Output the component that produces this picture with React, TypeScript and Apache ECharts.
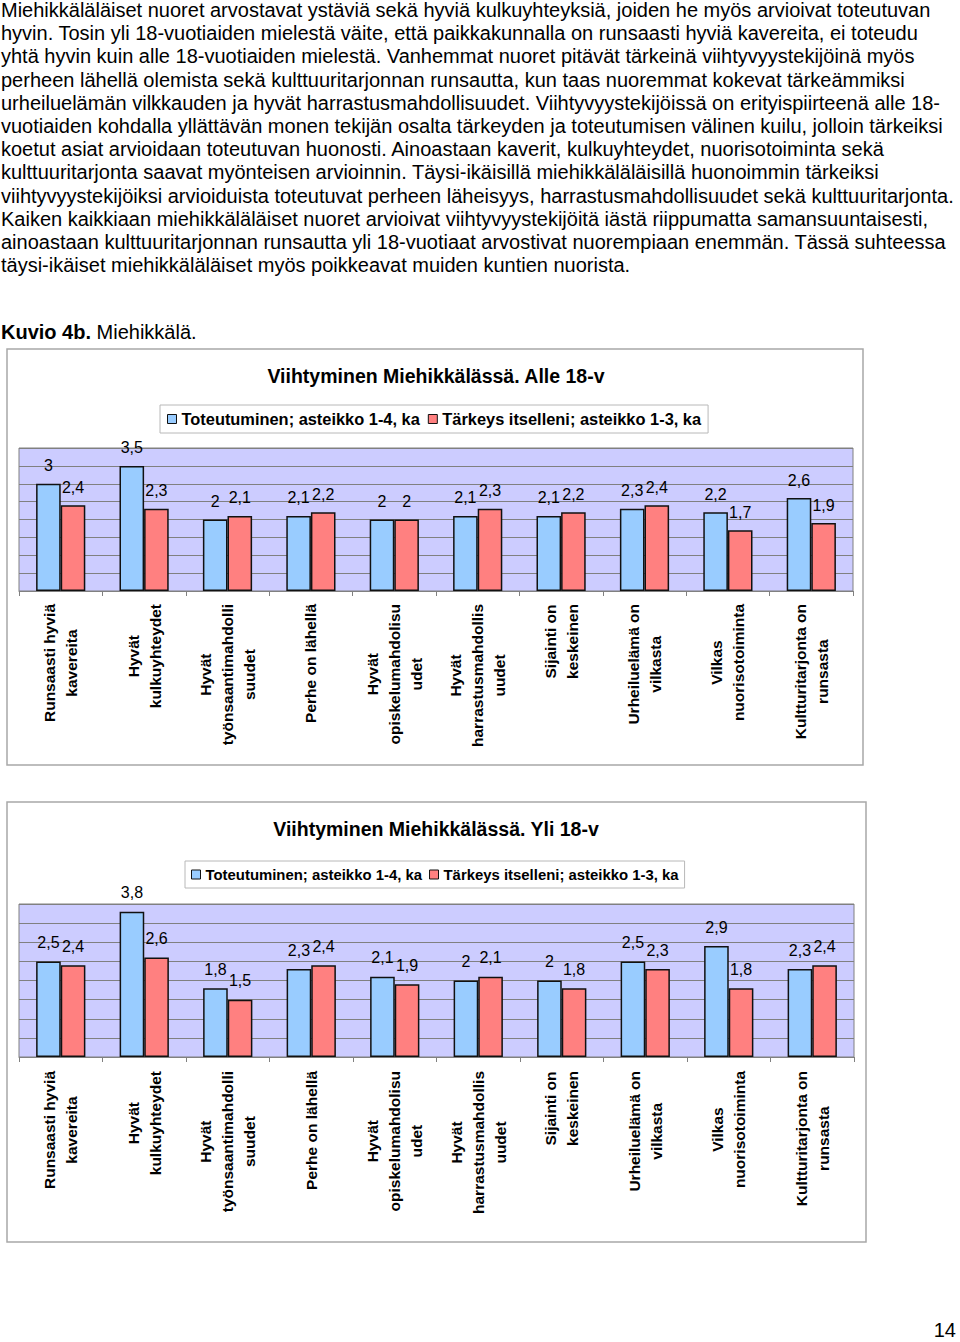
import React, { useEffect, useRef } from "react";
import * as echarts from "echarts";

const FONT = "'Liberation Sans', Arial, Helvetica, sans-serif";

const categories = [
  "Runsaasti hyviä\nkavereita",
  "Hyvät\nkulkuyhteydet",
  "Hyvät\ntyönsaantimahdolli\nsuudet",
  "Perhe on lähellä",
  "Hyvät\nopiskelumahdolisu\nudet",
  "Hyvät\nharrastusmahdollis\nuudet",
  "Sijainti on\nkeskeinen",
  "Urheiluelämä on\nvilkasta",
  "Vilkas\nnuorisotoiminta",
  "Kultturitarjonta on\nrunsasta",
];

const seriesNames = [
  "Toteutuminen; asteikko 1-4, ka",
  "Tärkeys itselleni; asteikko 1-3, ka",
];

const alle18Toteutuminen = [3, 3.5, 2, 2.1, 2, 2.1, 2.1, 2.3, 2.2, 2.6];
const alle18Tarkeys = [2.4, 2.3, 2.1, 2.2, 2, 2.3, 2.2, 2.4, 1.7, 1.9];
const yli18Toteutuminen = [2.5, 3.8, 1.8, 2.3, 2.1, 2, 2, 2.5, 2.9, 2.3];
const yli18Tarkeys = [2.4, 2.6, 1.5, 2.4, 1.9, 2.1, 1.8, 2.3, 1.8, 2.4];

const yMin = 0;
const yMax = 4;
const yInterval = 0.5;

const chartTitles = [
  "Viihtyminen Miehikkälässä. Alle 18-v",
  "Viihtyminen Miehikkälässä. Yli 18-v",
];

const paragraphLines = [
  "Miehikkäläläiset nuoret arvostavat ystäviä sekä hyviä kulkuyhteyksiä, joiden he myös arvioivat toteutuvan",
  "hyvin. Tosin yli 18-vuotiaiden mielestä väite, että paikkakunnalla on runsaasti hyviä kavereita, ei toteudu",
  "yhtä hyvin kuin alle 18-vuotiaiden mielestä. Vanhemmat nuoret pitävät tärkeinä viihtyvyystekijöinä myös",
  "perheen lähellä olemista sekä kulttuuritarjonnan runsautta, kun taas nuoremmat kokevat tärkeämmiksi",
  "urheiluelämän vilkkauden ja hyvät harrastusmahdollisuudet. Viihtyvyystekijöissä on erityispiirteenä alle 18-",
  "vuotiaiden kohdalla yllättävän monen tekijän osalta tärkeyden ja toteutumisen välinen kuilu, jolloin tärkeiksi",
  "koetut asiat arvioidaan toteutuvan huonosti. Ainoastaan kaverit, kulkuyhteydet, nuorisotoiminta sekä",
  "kulttuuritarjonta saavat myönteisen arvioinnin. Täysi-ikäisillä miehikkäläläisillä huonoimmin tärkeiksi",
  "viihtyvyystekijöiksi arvioiduista toteutuvat perheen läheisyys, harrastusmahdollisuudet sekä kulttuuritarjonta.",
  "Kaiken kaikkiaan miehikkäläläiset nuoret arvioivat viihtyvyystekijöitä iästä riippumatta samansuuntaisesti,",
  "ainoastaan kulttuuritarjonnan runsautta yli 18-vuotiaat arvostivat nuorempiaan enemmän. Tässä suhteessa",
  "täysi-ikäiset miehikkäläläiset myös poikkeavat muiden kuntien nuorista.",
];

const BLUE = "#99CCFF";
const RED = "#FF8080";

function App() {
  const ref = useRef<HTMLDivElement>(null);

  useEffect(() => {
    if (!ref.current) return;
    const chart = echarts.init(ref.current, null, { renderer: "svg" });

    const fmtLabel = (v: string) =>
      v
        .split("\n")
        .map((l) => `{c|${l}}`)
        .join("\n");

    const xAxisBase = (gridIndex: number, margin: number) => ({
      type: "category",
      gridIndex,
      data: categories,
      axisLine: { lineStyle: { color: "#808080", width: 1 } },
      axisTick: { show: true, length: 5, lineStyle: { color: "#808080" } },
      axisLabel: {
        interval: 0,
        rotate: 90,
        margin,
        formatter: fmtLabel,
        rich: {
          c: {
            align: "center",
            fontFamily: FONT,
            fontWeight: "bold",
            fontSize: 15.5,
            lineHeight: 22,
            color: "#000",
          },
        },
      },
    });

    const yAxisBase = (gridIndex: number) => ({
      type: "value",
      gridIndex,
      min: yMin,
      max: yMax,
      interval: yInterval,
      axisLabel: { show: false },
      axisLine: { show: false },
      axisTick: { show: false },
      splitLine: { show: true, lineStyle: { color: "#808080", width: 1 } },
    });

    const barSeries = (
      name: string,
      data: number[],
      color: string,
      idx: number,
      dist: number
    ) => ({
      type: "bar",
      name,
      data,
      xAxisIndex: idx,
      yAxisIndex: idx,
      barGap: "0%",
      barCategoryGap: "41%",
      itemStyle: { color, borderColor: "#111", borderWidth: 1.5 },
      label: {
        show: true,
        position: "top",
        distance: dist,
        fontFamily: FONT,
        fontSize: 16,
        color: "#000",
        formatter: (p: any) => String(p.value).replace(".", ","),
      },
    });

    const graphics: any[] = [];
    paragraphLines.forEach((line, i) => {
      graphics.push({
        type: "text",
        x: 1,
        y: 10 + i * 23.2,
        style: {
          text: line,
          fontFamily: FONT,
          fontSize: 20,
          lineHeight: 20,
          fill: "#000",
          verticalAlign: "middle",
          align: "left",
        },
      });
    });
    graphics.push({
      type: "text",
      x: 1,
      y: 332,
      style: {
        text: "{b|Kuvio 4b.} Miehikkälä.",
        fontFamily: FONT,
        fontSize: 20,
        fill: "#000",
        verticalAlign: "middle",
        rich: { b: { fontWeight: "bold", fontFamily: FONT, fontSize: 20 } },
      },
    });
    graphics.push({
      type: "text",
      x: 956,
      y: 1330,
      style: {
        text: "14",
        fontFamily: FONT,
        fontSize: 20,
        lineHeight: 20,
        fill: "#000",
        verticalAlign: "middle",
        align: "right",
      },
    });
    graphics.push({
      type: "rect",
      z: -10,
      shape: { x: 7, y: 349, width: 856, height: 416 },
      style: { fill: "#fff", stroke: "#a8a8a8", lineWidth: 1.5 },
    });
    graphics.push({
      type: "rect",
      z: -10,
      shape: { x: 7, y: 802, width: 859, height: 440 },
      style: { fill: "#fff", stroke: "#a8a8a8", lineWidth: 1.5 },
    });

    chart.setOption({
      animation: false,
      backgroundColor: "#fff",
      color: [BLUE, RED],
      textStyle: { fontFamily: FONT },
      title: [
        {
          text: chartTitles[0],
          left: 436,
          top: 366,
          textAlign: "center",
          padding: 0,
          textStyle: { fontFamily: FONT, fontSize: 19.5, fontWeight: "bold", color: "#000" },
        },
        {
          text: chartTitles[1],
          left: 436,
          top: 819,
          textAlign: "center",
          padding: 0,
          textStyle: { fontFamily: FONT, fontSize: 19.5, fontWeight: "bold", color: "#000" },
        },
      ],
      legend: [
        {
          left: 160,
          top: 405,
          data: seriesNames,
          icon: "rect",
          itemWidth: 9,
          itemHeight: 9,
          itemGap: 8,
          padding: [6, 7],
          borderColor: "#b8b8b8",
          borderWidth: 1,
          backgroundColor: "#fff",
          itemStyle: { borderColor: "#111", borderWidth: 1 },
          textStyle: { fontFamily: FONT, fontSize: 16.4, fontWeight: "bold", color: "#000" },
        },
        {
          left: 185,
          top: 861,
          data: seriesNames,
          icon: "rect",
          itemWidth: 9,
          itemHeight: 9,
          itemGap: 7,
          padding: [6, 6],
          borderColor: "#b8b8b8",
          borderWidth: 1,
          backgroundColor: "#fff",
          itemStyle: { borderColor: "#111", borderWidth: 1 },
          textStyle: { fontFamily: FONT, fontSize: 14.9, fontWeight: "bold", color: "#000" },
        },
      ],
      grid: [
        {
          left: 19,
          top: 448,
          width: 834,
          height: 143,
          show: true,
          backgroundColor: "#CCCCFF",
          borderColor: "#808080",
          borderWidth: 1,
        },
        {
          left: 19,
          top: 904,
          width: 835,
          height: 153,
          show: true,
          backgroundColor: "#CCCCFF",
          borderColor: "#808080",
          borderWidth: 1,
        },
      ],
      xAxis: [xAxisBase(0, 13), xAxisBase(1, 14)],
      yAxis: [yAxisBase(0), yAxisBase(1)],
      series: [
        barSeries(seriesNames[0], alle18Toteutuminen, BLUE, 0, 10),
        barSeries(seriesNames[1], alle18Tarkeys, RED, 0, 10),
        barSeries(seriesNames[0], yli18Toteutuminen, BLUE, 1, 11),
        barSeries(seriesNames[1], yli18Tarkeys, RED, 1, 11),
      ],
      graphic: graphics,
    });

    return () => chart.dispose();
  }, []);

  return (
    <div
      ref={ref}
      style={{ position: "absolute", left: 0, top: 0, width: 960, height: 1342 }}
    />
  );
}

export default App;
